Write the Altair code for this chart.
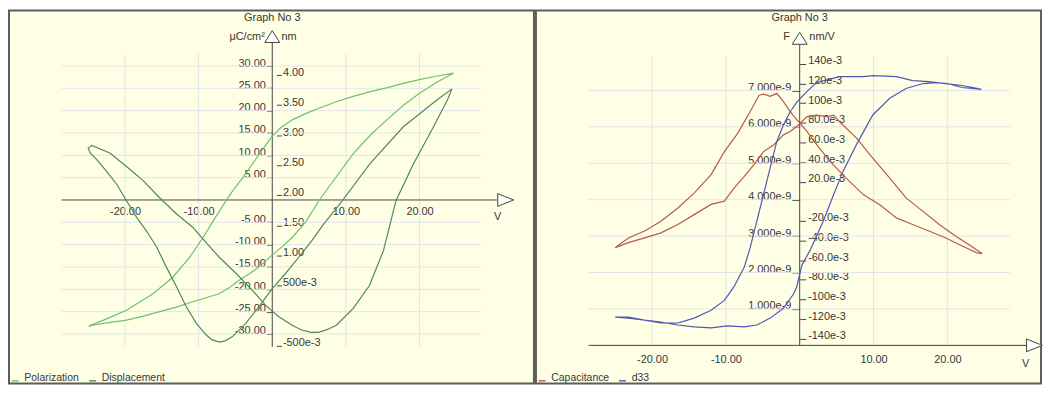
import altair as alt
import pandas as pd

# ---------------- data ----------------
# Left graph: Polarization (µC/cm²) and Displacement (nm) against V
pol_v = [24.6, 22.3, 20.1, 17.8, 15.5, 13.2, 11.0, 8.7, 6.4, 4.6, 2.8, 1.3, 0.0, -1.8, -3.6, -5.4, -6.6,
         -8.1, -9.4, -11.2, -13.5, -16.2, -19.8, -22.9, -24.6, -24.9,
         -24.3, -22.0, -19.8, -17.5, -15.3, -13.0, -10.8, -9.0, -7.2, -5.8, -4.5, -3.1, -1.8, 0.0, 1.4,
         2.7, 4.5, 6.4, 8.7, 11.0, 13.3, 15.6, 17.8, 20.1, 22.4, 24.6]
pol_p = [28.4, 27.7, 27.0, 26.1, 25.1, 24.2, 23.2, 22.0, 20.6, 19.4, 18.0, 16.4, 14.3, 10.2, 5.9, 2.0, -1.0,
         -4.9, -8.4, -12.8, -17.3, -21.0, -24.7, -26.9, -28.0, -28.3,
         -28.0, -27.4, -26.9, -26.0, -25.0, -24.0, -22.8, -21.9, -21.0, -19.6, -18.0, -16.5, -15.0, -12.3, -10.4,
         -8.4, -5.0, 0.0, 5.2, 10.4, 14.5, 18.0, 21.2, 24.0, 26.4, 28.4]

disp_v = [24.4, 22.4, 17.8, 13.3, 9.2, 6.9, 5.4, 3.6, 1.8, 0.0, -1.8, -3.6, -5.4, -6.4, -7.2, -8.2, -9.0,
          -10.3, -11.7, -13.0, -14.4, -15.7, -17.1, -18.4, -19.8, -21.1, -22.5, -23.8, -24.7, -25.0,
          -24.5, -22.0, -19.8, -17.5, -15.3, -13.0, -10.8, -9.4, -7.2, -4.9, -2.7, -0.9, 0.9, 2.7, 4.0,
          5.3, 6.3, 7.5, 8.7, 11.0, 13.2, 15.1, 16.8, 19.2, 21.9, 23.8, 24.4]
disp_nm = [3.77, 3.59, 3.14, 2.53, 1.86, 1.51, 1.25, 0.97, 0.70, 0.45, 0.15, -0.13, -0.35, -0.42, -0.44, -0.40, -0.32,
           -0.13, 0.15, 0.48, 0.81, 1.14, 1.41, 1.63, 1.91, 2.18, 2.40, 2.59, 2.70, 2.78,
           2.83, 2.70, 2.48, 2.24, 1.96, 1.69, 1.47, 1.27, 0.97, 0.70, 0.42, 0.17, -0.02, -0.16, -0.24,
           -0.28, -0.28, -0.23, -0.16, 0.12, 0.50, 1.08, 1.91, 2.53, 3.14, 3.59, 3.77]

# Right graph: Capacitance (F, read in nF) and d33 (nm/V) against V
cap_v = [-25.0, -23.2, -21.0, -18.8, -16.5, -14.3, -12.0, -10.2, -8.4, -6.7, -5.5, -4.9, -4.0, -3.1, -2.2,
         -1.3, -0.4, 1.0, 2.3, 4.1, 6.3, 8.6, 10.8, 13.1, 15.3, 17.5, 19.8, 22.0, 24.0, 24.7,
         22.9, 21.1, 18.9, 16.7, 14.4, 12.2, 9.9, 7.7, 5.4, 4.6, 3.7, 2.3, 1.0, -0.4, -1.3, -2.2, -3.5,
         -4.9, -6.2, -7.5, -8.9, -10.2, -12.0, -14.3, -16.5, -18.8, -21.0, -23.2, -25.0]
cap_nf = [2.68, 2.95, 3.14, 3.41, 3.77, 4.18, 4.69, 5.32, 5.82, 6.42, 6.87, 6.90, 6.84, 6.92, 6.69,
          6.42, 6.20, 5.87, 5.51, 5.05, 4.59, 4.14, 3.87, 3.50, 3.32, 3.14, 2.95, 2.73, 2.54, 2.52,
          2.77, 3.00, 3.32, 3.68, 4.05, 4.59, 5.14, 5.69, 6.14, 6.32, 6.28, 6.32, 6.28, 6.01, 5.87, 5.78, 5.51,
          5.32, 4.96, 4.64, 4.32, 3.96, 3.87, 3.59, 3.32, 3.09, 2.95, 2.82, 2.68]

d33_v = [-25.0, -23.2, -21.0, -18.8, -16.5, -14.3, -12.0, -10.2, -8.9, -7.5, -6.7, -5.8, -4.9, -4.0, -3.1,
         -2.2, -1.3, -0.4, 1.0, 2.3, 5.4, 8.6, 9.9, 13.1, 15.3, 17.5, 19.8, 22.0, 24.0, 24.6,
         22.0, 20.0, 18.5, 16.7, 14.4, 12.2, 9.9, 7.7, 5.9, 4.6, 3.2, 1.4, 0.3, -0.4, -0.8, -2.2, -4.0,
         -5.8, -7.5, -9.8, -12.0, -14.3, -16.5, -18.8, -21.0, -23.2, -25.0]
d33_nmv = [-0.118, -0.119, -0.121, -0.124, -0.124, -0.119, -0.111, -0.101, -0.087, -0.067, -0.047, -0.020,
           0.007, 0.034, 0.061, 0.078, 0.091, 0.101, 0.112, 0.121, 0.127, 0.127, 0.128, 0.127, 0.123, 0.122,
           0.120, 0.118, 0.115, 0.114,
           0.116, 0.120, 0.121, 0.120, 0.115, 0.105, 0.088, 0.058, 0.031, 0.007, -0.020, -0.050, -0.065,
           -0.087, -0.094, -0.109, -0.119, -0.126, -0.128, -0.127, -0.129, -0.128, -0.126, -0.123, -0.121,
           -0.118, -0.118]

# tick values / labels
v_ticks = [-20, -10, 10, 20]
p_ticks = [30, 25, 20, 15, 10, 5, -5, -10, -15, -20, -25, -30]
nm_ticks = [4.0, 3.5, 3.0, 2.5, 2.0, 1.5, 1.0, 0.5, -0.5]
f_ticks_nf = [7, 6, 5, 4, 3, 2, 1]
d33_ticks = [0.14, 0.12, 0.10, 0.08, 0.06, 0.04, 0.02, -0.02, -0.04, -0.06, -0.08, -0.10, -0.12, -0.14]

left_series = ["Polarization", "Displacement"]
right_series = ["Capacitance", "d33"]
title_text = "Graph No 3"

# ---------------- styling ----------------
FONT = "Liberation Sans"
BG = "#FFFFE6"
BORDER = "#5c5c5c"
GRID = "#E2E4EA"
AXIS = "#454545"
TXT = "#363636"
POL_C, DISP_C = "#6cc26c", "#4d8a58"
CAP_C, D33_C = "#b8594e", "#5257b4"

W1, W2, H = 529, 509, 376

# decoration extents (data units)
L_GRID_V = (-28.6, 28.4)
L_GRID_P = (-32.9, 32.7)
L_XLINE = (-28.6, 30.5)
L_YLINE = (-32.9, 35.3)
L_UP = (0.0, 36.6)
L_RIGHT = (31.7, 0.0)
L_TITLE = (0.0, 40.67)
R_GRID_V = (-28.6, 28.5)
R_GRID_C = (0.0, 7.96e-9)
R_XLINE = (-28.6, 30.7)
R_YLINE = (0.0, 8.27e-9)
R_UP = (0.0, 8.43e-9)
R_RIGHT = (31.8, 0.0)
R_TITLE = (0.0, 8.978e-9)

UP_SHAPE = "M-1,0.8L0,-0.8L1,0.8Z"
RIGHT_SHAPE = "M-1,-0.8L1,0L-1,0.8Z"


def neg_fmt(fmt):
    return "(datum.value<0?'-':'') + format(abs(datum.value),'%s')" % fmt


# ---------------- scales ----------------
lx = alt.Scale(domain=[-35.755, 35.539], nice=False, zero=False)
lp = alt.Scale(domain=[-41.111, 42.444], nice=False, zero=False)
lnm = alt.Scale(domain=[-1.1304, 5.0743], nice=False, zero=False)
rx = alt.Scale(domain=[-35.726, 32.688], nice=False, zero=False)
rc = alt.Scale(domain=[-1.0490e-9, 9.1962e-9], nice=False, zero=False)
rd = alt.Scale(domain=[-0.18569, 0.19449], nice=False, zero=False)

common_axis = dict(domain=False, grid=False, labelOverlap=False, labelFlush=False,
                   titleAngle=0, titleFontWeight="normal", titleBaseline="middle")

lx_axis = alt.Axis(orient="bottom", offset=-185, values=v_ticks, labelExpr=neg_fmt(".2f"),
                   ticks=False, tickSize=0, labelPadding=6, labelBaseline="top",
                   title="V", titleX=492, titleY=16.5, titleAlign="center", **common_axis)
lp_axis = alt.Axis(orient="left", offset=-265.3, values=p_ticks, labelExpr=neg_fmt(".2f"),
                   tickSize=6, labelPadding=1, labelBaseline="alphabetic", labelAlign="right",
                   title="μC/cm²", titleX=-8, titleY=26, titleAlign="right", **common_axis)
lnm_axis = alt.Axis(orient="right", offset=-259.5, values=nm_ticks,
                    labelExpr="datum.value==0.5 ? '500e-3' : datum.value==-0.5 ? '-500e-3' : format(datum.value,'.2f')",
                    tickSize=5, labelPadding=1, labelBaseline="alphabetic", labelAlign="left",
                    title="nm", titleX=4.5, titleY=26, titleAlign="left", **common_axis)

rx_axis = alt.Axis(orient="bottom", offset=-38.5, values=v_ticks, labelExpr=neg_fmt(".2f"),
                   ticks=False, tickSize=0, labelPadding=8.5, labelBaseline="top",
                   title="V", titleX=493, titleY=18.5, titleAlign="center", **common_axis)
rc_axis = alt.Axis(orient="left", offset=-265.8, values=[t * 1e-9 for t in f_ticks_nf],
                   labelExpr="format(datum.value*1e9,'.3f') + 'e-9'",
                   tickSize=8, labelPadding=1, labelBaseline="alphabetic", labelAlign="right",
                   title="F", titleX=-10.3, titleY=26, titleAlign="right", **common_axis)
rd_axis = alt.Axis(orient="right", offset=265.8 - W2, values=d33_ticks,
                   labelExpr="(datum.value<0?'-':'') + (abs(datum.value)>=0.0995 ? format(abs(datum.value)*1000,'.0f') : format(abs(datum.value)*1000,'.1f')) + 'e-3'",
                   tickSize=6, labelPadding=2, labelBaseline="alphabetic", labelAlign="left",
                   title="nm/V", titleX=9.2, titleY=26, titleAlign="left", **common_axis)


def legend(y):
    return alt.Legend(orient="none", legendX=1, legendY=y, direction="horizontal", title=None,
                      symbolType="stroke", symbolSize=49, symbolStrokeWidth=1.4,
                      labelFont=FONT, labelFontSize=10.5, labelColor=TXT, labelOffset=4,
                      labelBaseline="alphabetic",
                      columnPadding=6, padding=0, rowPadding=0)


def panel(xs, ys, ys2, xaxis, yaxis, yaxis2, grid_v, grid_y, grid_vspan, grid_yspan,
          xline, yline, up, right, title_pos, s1, s2, v1, y1, v2, y2, colors):
    cscale = alt.Scale(domain=[s1, s2], range=colors)
    leg = legend(367.5)
    X = lambda f: alt.X(f, type="quantitative", scale=xs, axis=xaxis)
    Y = lambda f: alt.Y(f, type="quantitative", scale=ys, axis=yaxis)

    gv = pd.DataFrame({"v": grid_v, "a": grid_vspan[0], "b": grid_vspan[1]})
    gy = pd.DataFrame({"y": grid_y, "a": grid_yspan[0], "b": grid_yspan[1]})
    grid_vert = alt.Chart(gv).mark_rule(color=GRID, strokeWidth=1).encode(x=X("v"), y=Y("a"), y2="b")
    grid_hor = alt.Chart(gy).mark_rule(color=GRID, strokeWidth=1).encode(y=Y("y"), x=X("a"), x2="b")

    xl = pd.DataFrame({"a": [xline[0]], "b": [xline[1]], "y": [0.0]})
    yl = pd.DataFrame({"v": [0.0], "a": [yline[0]], "b": [yline[1]]})
    x_line = alt.Chart(xl).mark_rule(color=AXIS, strokeWidth=1).encode(x=X("a"), x2="b", y=Y("y"))
    y_line = alt.Chart(yl).mark_rule(color=AXIS, strokeWidth=1).encode(x=X("v"), y=Y("a"), y2="b")

    up_df = pd.DataFrame({"v": [up[0]], "y": [up[1]]})
    rt_df = pd.DataFrame({"v": [right[0]], "y": [right[1]]})
    arrow_up = alt.Chart(up_df).mark_point(shape=UP_SHAPE, size=225, filled=True, fill="white",
                                           stroke=AXIS, strokeWidth=1, opacity=1).encode(x=X("v"), y=Y("y"))
    arrow_rt = alt.Chart(rt_df).mark_point(shape=RIGHT_SHAPE, size=256, filled=True, fill="white",
                                           stroke=AXIS, strokeWidth=1, opacity=1).encode(x=X("v"), y=Y("y"))

    tdf = pd.DataFrame({"v": [title_pos[0]], "y": [title_pos[1]], "t": [title_text]})
    title = alt.Chart(tdf).mark_text(font=FONT, fontSize=11, color=TXT, align="center",
                                     baseline="middle").encode(x=X("v"), y=Y("y"), text="t:N")

    d1 = pd.DataFrame({"v": v1, "y": y1, "i": range(len(v1)), "s": s1})
    d2 = pd.DataFrame({"v": v2, "y": y2, "i": range(len(v2)), "s": s2})
    line1 = alt.Chart(d1).mark_line(strokeWidth=1.2).encode(
        x=X("v"), y=Y("y"), order=alt.Order("i:Q"),
        color=alt.Color("s:N", scale=cscale, legend=leg))
    line2 = alt.Chart(d2).mark_line(strokeWidth=1.2).encode(
        x=X("v"), y=alt.Y("y:Q", scale=ys2, axis=yaxis2), order=alt.Order("i:Q"),
        color=alt.Color("s:N", scale=cscale, legend=leg))

    inner = alt.layer(grid_vert, grid_hor, x_line, y_line, arrow_up, arrow_rt, title, line1)
    return alt.layer(inner, line2).resolve_scale(y="independent")


left = panel(lx, lp, lnm, lx_axis, lp_axis, lnm_axis, v_ticks, p_ticks, L_GRID_P, L_GRID_V,
             L_XLINE, L_YLINE, L_UP, L_RIGHT, L_TITLE, left_series[0], left_series[1],
             pol_v, pol_p, disp_v, disp_nm, [POL_C, DISP_C]).properties(width=W1, height=H)

cap_f = [c * 1e-9 for c in cap_nf]
right = panel(rx, rc, rd, rx_axis, rc_axis, rd_axis, v_ticks, [t * 1e-9 for t in f_ticks_nf],
              R_GRID_C, R_GRID_V, R_XLINE, R_YLINE, R_UP, R_RIGHT, R_TITLE,
              right_series[0], right_series[1],
              cap_v, cap_f, d33_v, d33_nmv, [CAP_C, D33_C]).properties(width=W2, height=H)

chart = alt.hconcat(left, right, spacing=0).resolve_scale(
    color="independent").resolve_legend(color="independent").properties(
    padding=0, background="white").configure_view(
    fill=BG, stroke=BORDER, strokeWidth=2).configure_axis(
    labelFont=FONT, labelFontSize=11, labelColor=TXT, titleFont=FONT, titleFontSize=11,
    titleColor=TXT, tickColor=AXIS, tickWidth=1)

chart.save("out.html", embed_options={"renderer": "svg", "actions": False})
